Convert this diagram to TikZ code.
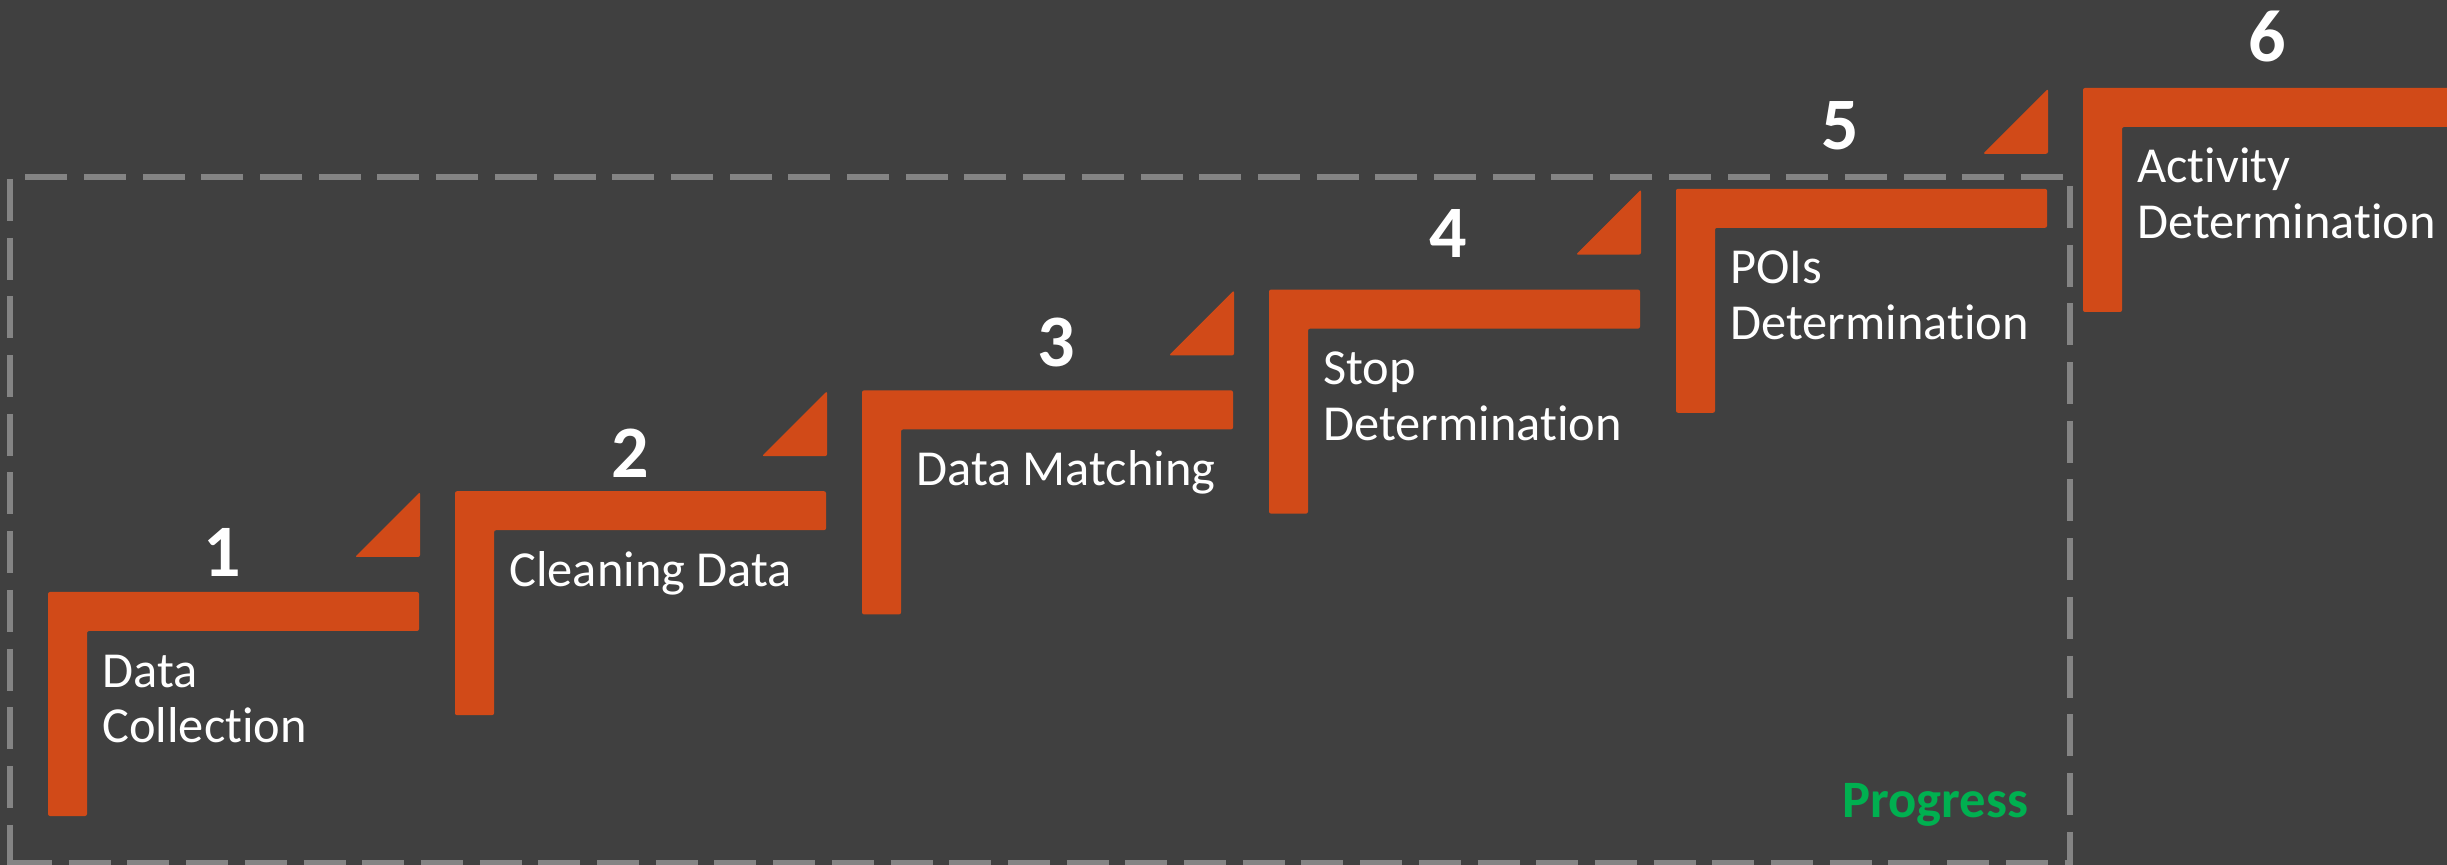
\documentclass[tikz,border=0pt]{standalone}
\usepackage{fontspec}
\setmainfont{Carlito}[Ligatures=NoCommon]
\definecolor{bg}{HTML}{404040}
\definecolor{stepfill}{HTML}{D14A18}
\definecolor{framegray}{HTML}{848484}
\definecolor{progressgreen}{HTML}{00B050}
% two stacked lines whose baseline is the first line
\newcommand{\steplines}[2]{\vtop{\baselineskip=28pt\hbox{#1}\hbox{#2}}}
\begin{document}
\begin{tikzpicture}[x=0.5pt,y=-0.5pt,
  stepbar/.style={fill=stepfill, rounded corners=1pt},
  stepmark/.style={fill=stepfill, rounded corners=1pt},
  steplabel/.style={text=white, font=\fontsize{25.2}{28}\selectfont, inner sep=0pt, anchor=base west},
  stepnum/.style={text=white, font=\fontsize{37}{40}\selectfont\bfseries, inner sep=0pt, anchor=base},
  framebox/.style={draw=framegray, line width=3pt, dash pattern=on 21pt off 8.35pt}]
\clip (0,0) rectangle (2447,865);
\fill[bg] (0,0) rectangle (2447,865);

% dashed progress frame, one side at a time
\draw[framebox] (2063,177) -- (10,177);
\draw[framebox] (10,179) -- (10,875);
\draw[framebox] (10,863) -- (2070,863);
\draw[framebox] (2070,186) -- (2070,875);

% L-shaped stair steps
\foreach \i in {0,...,5} {
  \pgfmathsetmacro\L{48+407*\i}
  \pgfmathsetmacro\T{592-100.8*\i}
  \fill[stepbar] (\L,\T) -- ++(371,0) -- ++(0,39) -- ++(-332,0) -- ++(0,185) -- ++(-39,0) -- cycle;
}
% corner markers above steps 1 to 5
\foreach \i in {0,...,4} {
  \pgfmathsetmacro\L{48+407*\i}
  \pgfmathsetmacro\T{592-100.8*\i}
  \fill[stepmark] (\L+307,\T-35) -- (\L+372,\T-100) -- (\L+372,\T-35) -- cycle;
}

% step numbers
\node[stepnum] (n1) at (222,577) {1};
\node[stepnum] (n2) at (630,478) {2};
\node[stepnum] (n3) at (1056,367) {3};
\node[stepnum] (n4) at (1448,258) {4};
\node[stepnum] (n5) at (1840,150) {5};
\node[stepnum] (n6) at (2267,62) {6};

% step captions
\node[steplabel] (s1) at (102,687) {\steplines{Data}{Collection}};
\node[steplabel] (s2) at (509,586.2) {Cleaning Data};
\node[steplabel] (s3) at (916,485.4) {Data Matching};
\node[steplabel] (s4) at (1323,384.6) {\steplines{Stop}{Determination}};
\node[steplabel] (s5) at (1730,283.8) {\steplines{POIs}{Determination}};
\node[steplabel] (s6) at (2137,183) {\steplines{Activity}{Determination}};

\node[text=progressgreen, font=\fontsize{26.3}{30}\selectfont\bfseries, inner sep=0pt, anchor=base west] (progress) at (1842,817) {Progress};
\end{tikzpicture}
\end{document}
